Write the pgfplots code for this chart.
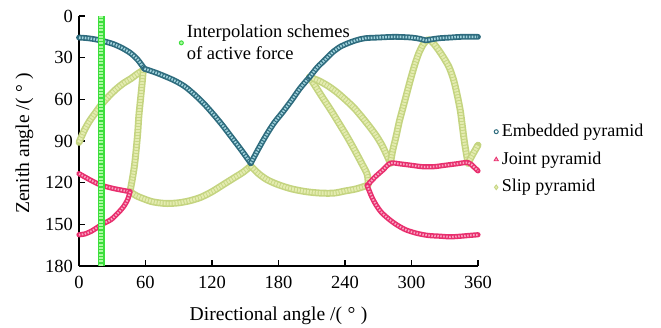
\documentclass[border=0pt]{standalone}
\usepackage{pgfplots}
\pgfplotsset{compat=1.18}
\usepackage{pgfplotstable}
\usepackage{fontspec}
\setmainfont{Liberation Serif}
\newcommand{\fs}{\fontsize{18.5}{22}\selectfont}
\newcommand{\fsl}{\fontsize{18}{22}\selectfont}
\newcommand{\fsb}{\fontsize{19.6}{23}\selectfont}
\definecolor{embD}{RGB}{46,108,126}
\definecolor{embL}{RGB}{160,210,220}
\definecolor{jointD}{RGB}{232,48,110}
\definecolor{jointL}{RGB}{250,165,195}
\definecolor{slipD}{RGB}{196,212,128}
\definecolor{slipL}{RGB}{228,236,176}
\definecolor{grnD}{RGB}{60,222,60}
\definecolor{grnL}{RGB}{170,250,160}

% Embedded pyramid
\pgfplotstableread{
x y
0 15.5
8 16
16 17
24 18.5
32 20.5
40 23.5
47 27
53 31.5
59 38
}\Ea
\pgfplotstableread{
x y
59 38
70 41
85 46
95 50.5
103 55.7
112 62.5
121 70.5
129 78.2
136 85.5
142 91.8
148 98.2
155 106
}\Eb
\pgfplotstableread{
x y
155 106
162 95.5
169 85.7
176 77
184 69
192 60.5
199.5 52
208 44
}\Ec
\pgfplotstableread{
x y
208 44
215 37
222 31.5
229 26
236 22
243 19.5
250 17.5
258 16
270 15.5
285 15
300 15.5
308 16.5
313 17.5
318 16.8
325 16
335 15.5
345 15
360 15
}\Ed
% Joint pyramid
\pgfplotstableread{
x y
0 113.5
10 118
19 121.5
30 124
46 126.5
}\Pa
\pgfplotstableread{
x y
46 126.5
44 132
40 137.5
35 142
29 146.5
22 149.5
17 152
11 155
5 157
0 157.5
}\Pb
\pgfplotstableread{
x y
260 122
267 116
274 111
281 106
290 106.5
300 107.5
310 108.5
320 108.5
330 107.5
340 106.5
351 105.5
356 108.5
360 111.5
}\Pc
\pgfplotstableread{
x y
260 122
264 130
268 136
273 141.5
280 146.5
287 150.5
295 154
305 156.5
315 158
325 158.5
335 159
345 158.5
352 158
360 157.5
}\Pd
% Slip pyramid
\pgfplotstableread{
x y
0 91
5 82
10 75
15 69.5
20 64
26 58.5
33 53
40 48.5
47 45
53 41.5
58 39
}\Sa
\pgfplotstableread{
x y
58 39
57 48
55.5 60
54 72
53 84
51.5 97
50 108
48 118
46 126.5
}\Sb
\pgfplotstableread{
x y
46 126.5
52 129.5
58 131.5
65 133.5
72 134.5
80 135
90 134.5
100 133
110 130.5
120 126.5
130 121.5
140 116.5
148 112.5
155 108
}\Sc
\pgfplotstableread{
x y
155 108
162 113.5
170 118
180 121.5
192 124.5
205 126.5
218 127.5
230 127.5
240 126
250 124.5
260 122
}\Sd
\pgfplotstableread{
x y
208 44
214 51.5
220 59
227 67.5
234 76.5
242 87
249 97
255 106
260 114
261 121.5
}\Se
\pgfplotstableread{
x y
208 44
216 46.5
224 50
232 54.5
240 60
248 66
255 72.5
262 79.5
268 86
273 92.5
277 99
281 106
}\Sf
\pgfplotstableread{
x y
281 106
283 97
286 87
289 76
292 67
295 58
299 46
303 35
307 26
311 20
315 17
319 19
324 24
329 30
334 37
338 46
341 56
344 68
346 80
348 92
351 106
}\Sg
\pgfplotstableread{
x y
351 106
355 100
360 93
}\Sh
\pgfplotstableread{
x y
20 0
20 180
}\Gbar

\pgfplotsset{
  embO/.style={forget plot, no marks, smooth, line width=5.8pt, line cap=round, line join=round, draw=embD},
  embI/.style={forget plot, no marks, smooth, line width=2.5pt, draw=embL, dash pattern=on 1.6pt off 1.3pt},
  jointO/.style={forget plot, no marks, smooth, line width=5.2pt, line cap=round, line join=round, draw=jointD},
  jointI/.style={forget plot, no marks, smooth, line width=2pt, draw=jointL, dash pattern=on 1.5pt off 1.5pt},
  slipO/.style={forget plot, no marks, smooth, line width=7pt, line cap=round, line join=round, draw=slipD},
  slipI/.style={forget plot, no marks, smooth, line width=3.8pt, draw=slipL, dash pattern=on 2pt off 1pt},
  grnO/.style={forget plot, no marks, line width=7pt, draw=grnD},
  grnI/.style={forget plot, no marks, line width=3.5pt, draw=grnL, dash pattern=on 2pt off 1.3pt},
  lgimg/.style={legend image code/.code={\draw[##1] plot coordinates {(0pt,0pt)};}},
  myaxis/.style={
    scale only axis, width=399pt, height=250pt,
    xmin=0, xmax=360, ymin=0, ymax=180, y dir=reverse,
    clip=false,
  },
}
\newcommand{\seg}[2]{\addplot[#2O] table {#1};\addplot[#2I] table {#1};}

\begin{document}
\begin{tikzpicture}[font=\fs]
\useasboundingbox (-79pt,-61pt) rectangle (582pt,266pt);
\begin{axis}[myaxis,
  axis lines=left,
  axis line style={-, line width=1.3pt, black},
  tick align=inside,
  major tick length=6pt,
  tick style={line width=1.2pt, black},
  xtick={0,60,...,360}, ytick={0,30,...,180},
  /pgf/number format/assume math mode=true,
  tick label style={font=\fs},
  xticklabel style={yshift=-7pt},
  yticklabel style={xshift=-2.5pt},
  label style={font=\fsb},
  xlabel={Directional angle /(\makebox[0.95em]{°})},
  ylabel={Zenith angle /(\makebox[0.95em]{°})},
  xlabel style={at={(axis description cs:0.5,-0.216)}, anchor=base},
  ylabel style={at={(axis description cs:-0.1253,0.49)}, anchor=base},
  legend style={at={(axis description cs:1.040,0.574)}, anchor=north west,
    draw=none, fill=none, font=\fsl, inner sep=0pt, column sep=3pt, row sep=9.8pt,
    nodes={inner sep=0.5pt, text height=13pt, text depth=4pt}},
  legend cell align=left,
]
\seg{\Sa}{slip}\seg{\Sb}{slip}\seg{\Sc}{slip}\seg{\Sd}{slip}
\seg{\Se}{slip}\seg{\Sf}{slip}\seg{\Sg}{slip}\seg{\Sh}{slip}
\seg{\Pa}{joint}\seg{\Pb}{joint}\seg{\Pc}{joint}\seg{\Pd}{joint}
\seg{\Ea}{emb}\seg{\Eb}{emb}\seg{\Ec}{emb}\seg{\Ed}{emb}
\addlegendimage{lgimg, mark=*, mark size=2pt, mark options={draw=embD, fill=white, line width=1pt}}
\addlegendentry{Embedded pyramid}
\addlegendimage{lgimg, mark=triangle*, mark size=2.4pt, mark options={draw=jointD, fill=jointL, line width=0.8pt}}
\addlegendentry{Joint pyramid}
\addlegendimage{lgimg, mark=diamond*, mark size=2.4pt, mark options={draw=slipD, fill=slipL, line width=0.8pt}}
\addlegendentry{Slip pyramid}
\end{axis}
\begin{axis}[myaxis, hide axis,
  legend style={at={(axis description cs:0.251,0.968)}, anchor=north west,
    draw=none, fill=none, font=\fs, inner sep=0pt, column sep=3pt,
    cells={align=left}, nodes={inner sep=0.5pt}},
  legend cell align=left,
]
\seg{\Gbar}{grn}
\addlegendimage{lgimg, mark=*, mark size=2pt, mark options={draw=grnD, fill=grnL, line width=1pt}}
\addlegendentry{Interpolation schemes\\of active force}
\end{axis}
\end{tikzpicture}
\end{document}
